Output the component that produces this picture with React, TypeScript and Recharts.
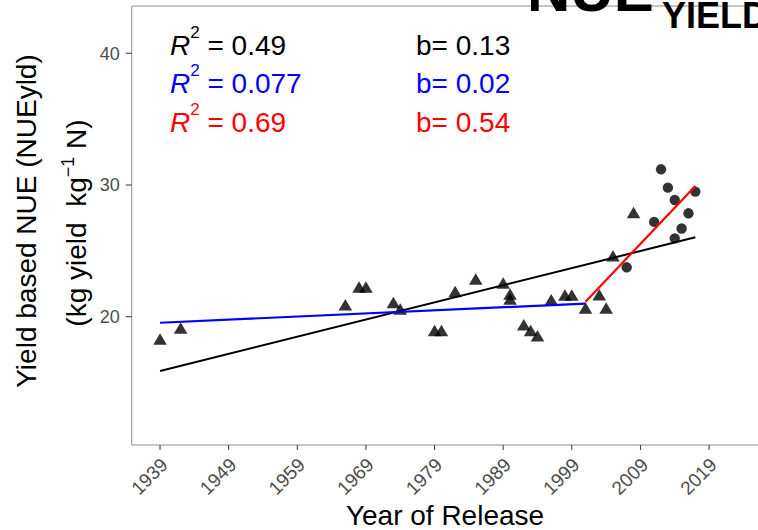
import React from "react";
import { ScatterChart, Scatter, XAxis, YAxis } from "recharts";

// cultivars released before the modern era (triangles)
const triangleYears = [1939, 1942, 1966, 1968, 1969, 1973, 1974, 1979, 1980, 1982, 1985, 1989, 1990, 1990, 1992, 1993, 1994, 1996, 1998, 1999, 2001, 2003, 2004, 2005, 2008];
const triangleNue = [18.28, 19.12, 20.89, 22.23, 22.23, 21.06, 20.56, 18.94, 18.94, 21.9, 22.84, 22.54, 21.7, 21.32, 19.37, 18.94, 18.53, 21.27, 21.62, 21.62, 20.64, 21.65, 20.64, 24.6, 27.9];

// recent hybrids (circles)
const circleYears = [2007, 2011, 2012, 2013, 2014, 2014, 2015, 2016, 2017];
const circleNue = [23.75, 27.2, 31.19, 29.8, 28.86, 25.95, 26.7, 27.85, 29.5];

// fitted regression lines (end points)
const fitAllYears = [1939, 2017];
const fitAllNue = [15.88, 26.03];
const fitEarlyYears = [1939, 2001];
const fitEarlyNue = [19.54, 21.0];
const fitLateYears = [2001, 2017];
const fitLateNue = [21.14, 29.92];

const r2Values = ["0.49", "0.077", "0.69"];
const slopeValues = ["0.13", "0.02", "0.54"];
const xTicks = [1939, 1949, 1959, 1969, 1979, 1989, 1999, 2009, 2019];
const yTicks = [20, 30, 40];

const toPoints = (xs: number[], ys: number[]) => xs.map((year, i) => ({ year, nue: ys[i] }));

const triangles = toPoints(triangleYears, triangleNue);
const circles = toPoints(circleYears, circleNue);
const fitAll = toPoints(fitAllYears, fitAllNue);
const fitEarly = toPoints(fitEarlyYears, fitEarlyNue);
const fitLate = toPoints(fitLateYears, fitLateNue);

const FONT = "'Liberation Sans', Arial, sans-serif";
const fitColors = ["#000000", "#0000ff", "#ff0000"];

const Triangle = (props: any) => {
  const { cx, cy } = props;
  if (cx == null || cy == null) return <g />;
  return (
    <polygon
      points={`${cx},${cy - 6} ${cx - 6.8},${cy + 5.5} ${cx + 6.8},${cy + 5.5}`}
      fill="#000"
      fillOpacity={0.8}
    />
  );
};

const Dot = (props: any) => {
  const { cx, cy } = props;
  if (cx == null || cy == null) return <g />;
  return <circle cx={cx} cy={cy} r={5.2} fill="#000" fillOpacity={0.8} />;
};

const NoShape = () => <g />;

const XTick = (props: any) => {
  const { x, y, payload } = props;
  return (
    <g transform={`translate(${x + 9},${y + 14})`}>
      <text transform="rotate(-45)" textAnchor="end" fontSize={19} fill="#4d4d4d" fontFamily={FONT}>
        {payload.value}
      </text>
    </g>
  );
};

const Overlay = () => (
  <svg width={758} height={530} style={{ position: "absolute", left: 0, top: 0, pointerEvents: "none" }} fontFamily={FONT}>
    <line x1={131.7} y1={6} x2={758} y2={6} stroke="#8c8c8c" strokeWidth={1} />
    <text x={527} y={11} fontSize={60} fontWeight="bold" fill="#000">NUE</text>
    <text x={662} y={28} fontSize={36} fontWeight="bold" fill="#000">YIELD</text>

    {r2Values.map((v, i) => (
      <text key={"r" + i} x={170} y={54.7 + i * 38.7} fontSize={28} fill={fitColors[i]}>
        <tspan fontStyle="italic">R</tspan>
        <tspan fontSize={17} dy={-17}>2</tspan>
        <tspan dy={17}>{" = " + v}</tspan>
      </text>
    ))}
    {slopeValues.map((v, i) => (
      <text key={"b" + i} x={416} y={54.7 + i * 38.7} fontSize={28} fill={fitColors[i]}>
        {"b= " + v}
      </text>
    ))}

    <text transform="translate(36,221) rotate(-90)" textAnchor="middle" fontSize={28} fill="#000">
      Yield based NUE (NUEyld)
    </text>
    <text transform="translate(86,223) rotate(-90)" textAnchor="middle" fontSize={28} fill="#000">
      {"(kg yield\u00A0\u00A0kg"}
      <tspan fontSize={18} dy={-12}>−1</tspan>
      <tspan dy={12}>{"\u00A0N)"}</tspan>
    </text>

    <text x={445} y={525} textAnchor="middle" fontSize={28} fill="#000">
      Year of Release
    </text>
  </svg>
);

export default function App() {
  return (
    <div style={{ position: "relative", width: 758, height: 530 }}>
      <style>{`body{margin:0}`}</style>
      <ScatterChart width={758} height={530} margin={{ top: 6, right: 0, left: 0, bottom: 0 }}>
        <XAxis
          dataKey="year"
          type="number"
          domain={[1934.87, 2026.13]}
          ticks={xTicks}
          interval={0}
          height={85}
          tickSize={5}
          tickLine={{ stroke: "#333" }}
          axisLine={{ stroke: "#8c8c8c" }}
          tick={<XTick />}
          allowDataOverflow
        />
        <YAxis
          dataKey="nue"
          type="number"
          domain={[10.26, 43.59]}
          ticks={yTicks}
          interval={0}
          width={131.7}
          tickSize={6}
          tickMargin={6}
          tickLine={{ stroke: "#333" }}
          axisLine={{ stroke: "#8c8c8c" }}
          tick={{ fontSize: 18, fill: "#4d4d4d", fontFamily: FONT }}
          allowDataOverflow
        />
        <Scatter data={triangles} shape={<Triangle />} isAnimationActive={false} />
        <Scatter data={circles} shape={<Dot />} isAnimationActive={false} />
        <Scatter data={fitAll} shape={<NoShape />} line={{ stroke: "#000000", strokeWidth: 2 }} isAnimationActive={false} />
        <Scatter data={fitEarly} shape={<NoShape />} line={{ stroke: "#0000ff", strokeWidth: 2.2 }} isAnimationActive={false} />
        <Scatter data={fitLate} shape={<NoShape />} line={{ stroke: "#ff0000", strokeWidth: 2.2 }} isAnimationActive={false} />
      </ScatterChart>
      <Overlay />
    </div>
  );
}
